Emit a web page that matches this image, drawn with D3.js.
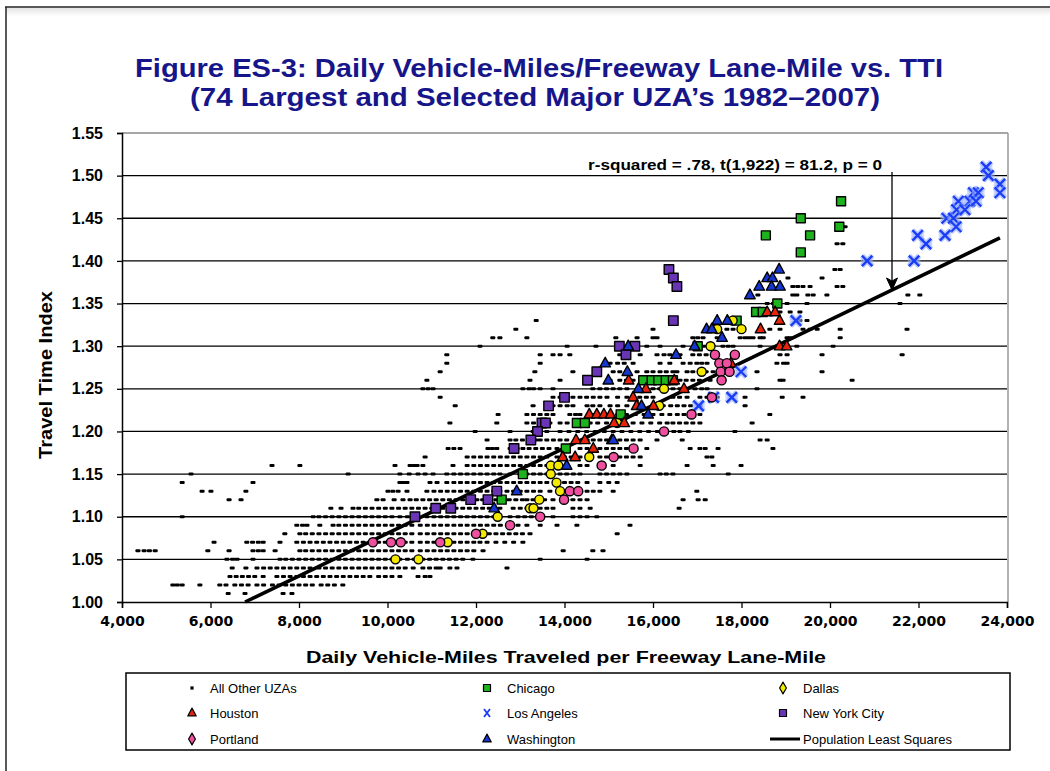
<!DOCTYPE html>
<html><head><meta charset="utf-8">
<script src="https://cdn.jsdelivr.net/npm/d3@7"></script>
<style>body{margin:0;background:#fff}svg{display:block}</style>
</head><body>
<svg id="chart" width="1050" height="771"></svg>
<script>
// ---------- DATA ----------
const titleLines = ["Figure ES-3: Daily Vehicle-Miles/Freeway Lane-Mile vs. TTI", "(74 Largest and Selected Major UZA\u2019s 1982\u20132007)"];
const xTicks = [4000, 6000, 8000, 10000, 12000, 14000, 16000, 18000, 20000, 22000, 24000];
const yTicks = [1.00, 1.05, 1.10, 1.15, 1.20, 1.25, 1.30, 1.35, 1.40, 1.45, 1.50, 1.55];
const xTitle = "Daily Vehicle-Miles Traveled per Freeway Lane-Mile";
const yTitle = "Travel Time Index";
const statText = "r-squared = .78, t(1,922) = 81.2, p = 0";

// All Other UZAs: TTI level and the VMT values (thousands) observed at that level
const otherTTI = [1.01,1.02,1.03,1.04,1.05,1.06,1.07,1.08,1.09,1.10,1.11,1.12,1.13,1.14,1.15,1.16,1.17,1.18,1.19,1.20,1.21,1.22,1.23,1.24,1.25,1.26,1.27,1.28,1.29,1.30,1.31,1.32,1.33,1.34,1.35,1.36,1.37,1.38,1.39,1.42,1.44];
const otherVMT = [
 [6.40,6.78,7.64,7.84],
 [5.15,5.25,5.36,5.76,6.21,6.35,6.55,6.70,6.85,7.05,7.20,7.40,7.55,7.70,7.85,8.00,8.15,8.30,8.50,8.65,8.80,8.99],
 [6.44,6.58,6.72,6.86,7.00,7.19,7.50,7.65,7.80,7.95,8.10,8.25,8.40,8.55,8.70,8.85,9.00,9.15,9.30,9.45,9.60,9.80,9.95,10.10,10.28,10.69,10.85,10.96],
 [6.49,6.80,7.05,7.20,7.35,7.50,7.65,7.80,7.95,8.10,8.25,8.45,8.60,8.75,8.90,9.05,9.20,9.35,9.50,9.65,9.80,9.95,10.10,10.25,10.40,10.58,10.80,10.95,11.10,11.19,11.41,11.57,12.70],
 [6.37,6.50,6.60,6.96,7.57,7.70,7.85,8.00,8.15,8.30,8.45,8.60,8.75,8.90,9.05,9.20,9.35,9.50,9.65,9.80,9.95,10.10,10.28,10.45,10.60,10.80,10.95,11.10,11.25,11.40,11.55,11.70,11.93,13.45,14.51],
 [4.36,4.50,4.62,4.75,5.94,6.42,6.96,7.08,7.19,7.46,8.02,8.15,8.30,8.45,8.60,8.75,8.90,9.05,9.20,9.35,9.50,9.65,9.80,9.95,10.10,10.25,10.40,10.55,10.74,10.90,11.05,11.20,11.35,11.50,11.65,11.80,11.95,12.16,13.97,14.64,14.87],
 [6.08,6.82,6.95,7.08,7.19,7.57,7.95,8.10,8.25,8.40,8.55,8.70,8.85,9.00,9.15,9.30,9.45,9.60,9.80,9.95,10.40,10.55,10.74,10.90,11.05,11.35,11.50,11.65,11.80,11.95,12.09,12.25,12.45,12.65,12.85,13.06],
 [7.68,8.02,8.15,8.30,8.45,8.60,8.75,8.90,9.05,9.20,9.35,9.50,9.65,9.80,9.95,10.10,10.25,10.40,10.55,10.74,10.90,11.05,11.20,11.35,11.50,11.65,11.80,12.30,12.45,12.60,12.75,12.90,13.05,13.22,15.19],
 [7.95,8.08,8.18,8.47,8.77,8.90,9.05,9.20,9.35,9.50,9.65,9.80,9.95,10.10,10.25,10.40,10.55,10.74,10.90,11.05,11.20,11.35,11.50,11.65,11.80,11.95,12.10,12.25,12.40,12.55,12.95,13.15,13.45,13.83,14.28,15.48],
 [5.36,8.32,8.45,8.60,8.75,8.90,9.05,9.20,9.35,9.50,9.65,9.80,9.95,10.10,10.28,10.45,10.58,10.89,11.05,11.20,11.35,11.50,11.65,11.80,11.95,12.10,12.25,12.40,12.54,12.77,12.95,13.10,13.25,13.45,13.74,14.19,14.35,14.51,14.73],
 [8.72,8.95,9.22,9.35,9.50,9.65,9.80,9.95,10.10,10.25,10.40,10.55,10.70,10.85,11.00,11.25,11.55,11.70,11.85,12.00,12.15,12.30,12.54,12.84,13.00,13.15,13.45,13.60,13.74,14.19,14.35,14.58,16.59],
 [6.42,6.69,9.76,9.90,10.15,10.35,10.51,10.65,10.80,10.95,11.10,11.25,11.40,11.55,11.70,12.02,12.15,12.30,12.45,12.60,12.75,12.90,13.05,13.15,13.29,13.55,13.74,14.19,14.35,14.51,16.68,17.02,17.18],
 [5.81,6.01,6.80,10.01,10.12,10.24,10.44,10.89,11.05,11.20,11.35,11.50,11.65,11.80,11.95,12.10,12.25,12.40,12.54,12.70,12.85,13.00,13.15,13.30,13.45,13.67,14.51,14.65,14.80,15.10,16.99],
 [5.36,6.96,10.28,10.35,10.44,10.96,11.12,11.34,11.50,11.65,11.80,11.95,12.10,12.25,12.40,12.55,12.70,12.85,13.00,13.15,13.30,13.45,13.60,13.83,14.00,14.15,14.30,14.51,14.80,15.00,15.19],
 [5.56,9.11,10.28,10.49,10.69,10.85,11.03,11.34,11.50,11.65,11.80,11.95,12.10,12.25,12.40,12.54,12.77,12.99,13.15,13.30,13.45,13.60,13.90,14.05,14.20,14.35,14.80,14.95,15.10,15.25,15.41,16.16,16.30,16.45,17.70],
 [7.39,8.02,10.17,10.51,10.60,10.67,10.80,11.48,11.80,11.95,12.10,12.25,12.40,12.55,12.70,12.85,13.00,13.15,13.30,13.45,13.60,13.75,13.90,14.06,14.35,14.51,15.10,15.71,16.77,17.36,17.99],
 [10.85,11.80,11.95,12.10,12.25,12.40,12.55,12.70,12.85,13.00,13.15,13.30,13.45,13.60,13.83,14.00,14.15,14.35,14.80,14.95,15.10,15.25,15.40,15.55,15.71,17.22,17.33],
 [11.37,11.50,11.64,12.27,12.37,12.47,12.77,12.93,13.06,13.20,13.35,13.50,13.65,13.83,14.35,14.51,14.80,14.95,15.10,15.25,15.40,15.55,15.86,16.84,17.06,17.18,17.47,18.71],
 [12.25,12.77,12.90,13.05,13.20,13.35,13.45,13.60,13.75,13.90,14.05,14.28,14.51,14.65,14.80,14.95,15.10,15.25,15.40,15.55,15.71,16.09,16.66,18.42,18.58],
 [11.98,12.77,13.29,13.45,13.60,13.90,14.10,14.30,14.50,14.70,14.90,15.10,15.30,15.50,15.70,15.90,16.10,16.30,16.47,16.61,16.80,17.85],
 [11.41,12.47,13.15,13.30,13.45,13.67,13.90,14.06,14.58,14.75,14.95,15.15,15.35,15.55,15.75,15.95,16.15,16.32,16.45,16.60,16.75,16.90,17.06,18.24],
 [12.50,13.15,13.30,13.45,13.60,13.74,14.12,14.25,14.35,14.64,15.20,15.40,15.60,15.80,16.00,16.20,16.38,16.55,16.70,16.85,17.06,18.64],
 [11.53,13.29,13.74,13.90,14.06,14.19,14.51,14.64,14.80,15.03,15.20,15.41,15.64,16.23,16.40,16.55,16.70,16.85,17.06,18.08],
 [11.19,13.74,13.90,14.05,14.19,14.35,14.50,14.65,14.80,14.96,15.20,15.41,15.55,15.70,15.85,16.00,16.45,16.60,16.77,17.06,17.22,17.45,18.08,18.92,19.39],
 [10.80,10.92,11.03,13.06,13.20,13.30,13.45,13.74,14.64,14.80,14.95,15.10,15.25,15.41,15.86,16.00,16.15,16.30,16.45,16.61,16.77,16.95,17.10,17.22,18.35],
 [10.89,13.22,13.90,15.03,15.25,15.40,15.55,15.78,16.00,16.20,16.40,16.61,16.75,16.90,17.05,17.29,18.87,18.94,20.50],
 [11.19,13.33,14.19,15.10,15.25,15.64,15.86,16.00,16.16,16.30,16.45,16.54,16.77,16.90,17.05,17.20,17.36,18.35,19.82],
 [11.34,13.45,15.03,15.20,15.35,15.55,16.16,16.38,16.68,16.84,16.99,17.10,17.22,18.80,18.95,19.03],
 [11.34,13.45,13.74,13.90,14.12,15.25,15.71,16.09,16.25,16.38,16.50,16.61,16.90,17.05,17.20,17.36,18.87,19.03,19.82,21.63],
 [12.09,14.06,14.71,15.86,16.16,16.68,16.99,17.14,17.29,17.58,17.70,17.81,18.42,19.25,20.07],
 [12.38,12.54,13.15,15.16,15.64,16.00,16.09,16.90,17.01,17.13,17.45,17.97,18.08,18.17,18.26,18.42,18.49,19.03,19.10,20.23],
 [12.90,16.00,17.67,17.81,18.64,18.87,19.39,19.55,19.71,20.23,21.74],
 [13.36,19.32,19.48],
 [18.87,19.10,19.32],
 [18.58,18.72,18.85,19.03,19.48,21.58],
 [18.37,19.16,19.25,19.50,19.62,19.93,21.76,22.03],
 [19.16,19.27,19.39,19.55,20.16,20.29],
 [19.05,19.82],
 [20.11,20.23],
 [20.16,20.29],
 [20.34]
];

// Selected UZAs: [VMT per lane-mile, TTI]
const chicago = [[20250,1.47],[19340,1.45],[20210,1.44],[18550,1.43],[19550,1.43],[19340,1.41],[18810,1.35],[18330,1.34],[18480,1.34],[17890,1.33],[17010,1.30],[15780,1.26],[15970,1.26],[16120,1.26],[16290,1.26],[16450,1.26],[15270,1.22],[14280,1.21],[14460,1.21],[14030,1.18],[13060,1.15],[12580,1.12]];
const dallas = [[17800,1.33],[18000,1.32],[17450,1.32],[17300,1.30],[17100,1.27],[16250,1.25],[16140,1.23],[15190,1.21],[14560,1.17],[13690,1.16],[13860,1.16],[13690,1.15],[13820,1.14],[13900,1.13],[13430,1.12],[13220,1.11],[13300,1.11],[12490,1.10],[12150,1.08],[11360,1.07],[10700,1.05],[10180,1.05]];
const houston = [[18580,1.34],[18760,1.34],[18860,1.33],[18430,1.32],[18860,1.30],[19020,1.30],[17760,1.28],[16480,1.26],[16700,1.25],[15450,1.26],[15840,1.25],[15550,1.24],[15630,1.23],[16010,1.23],[14560,1.22],[14730,1.22],[14890,1.22],[15040,1.22],[15120,1.21],[15350,1.21],[14260,1.19],[14460,1.19],[15070,1.19],[14650,1.18],[13960,1.17],[14240,1.17]];
const losAngeles = [[23530,1.51],[23580,1.50],[23840,1.49],[23840,1.48],[23240,1.48],[23350,1.48],[23160,1.47],[23300,1.47],[22900,1.47],[22860,1.46],[23050,1.46],[22640,1.45],[22790,1.45],[22850,1.44],[22600,1.43],[21980,1.43],[22170,1.42],[20840,1.40],[21900,1.40],[19230,1.33],[17990,1.27],[17030,1.23],[17370,1.24],[17780,1.24]];
const newYork = [[16360,1.39],[16460,1.38],[16540,1.37],[16460,1.33],[15240,1.30],[15590,1.30],[15390,1.29],[14730,1.27],[14520,1.26],[14000,1.24],[13640,1.23],[13490,1.21],[13570,1.21],[13390,1.20],[13240,1.19],[12860,1.18],[12470,1.13],[11880,1.12],[12270,1.12],[11090,1.11],[11430,1.11],[10620,1.10]];
const portland = [[17400,1.29],[17850,1.29],[17500,1.28],[17670,1.28],[17530,1.27],[17730,1.27],[17550,1.26],[17330,1.24],[16870,1.22],[16250,1.20],[15560,1.18],[15110,1.17],[14840,1.16],[14120,1.13],[14310,1.13],[13990,1.12],[13450,1.10],[12770,1.09],[12000,1.08],[11190,1.07],[9670,1.07],[10080,1.07],[10300,1.07]];
const washington = [[18850,1.39],[18580,1.38],[18700,1.38],[18400,1.37],[18680,1.37],[18870,1.37],[18190,1.36],[17450,1.33],[17680,1.33],[17210,1.32],[17330,1.32],[17560,1.31],[16940,1.30],[16520,1.29],[15440,1.30],[14920,1.28],[15420,1.27],[14990,1.26],[15670,1.25],[15740,1.23],[15890,1.22],[15100,1.19],[14050,1.16],[12920,1.13],[12410,1.11]];
// Population least squares fit end points
const lsqVMT = [6780, 23840];
const lsqTTI = [1.000, 1.427];

const legendLabels = ["All Other UZAs","Houston","Portland","Chicago","Los Angeles","Washington","Dallas","New York City","Population Least Squares"];
const legendKeys = ["other","houston","portland","chicago","la","washington","dallas","nyc","lsq"];

// ---------- DRAW ----------
const svg = d3.select("#chart");
const W = 1050, H = 771;
const P = {l:122, r:1007, t:133, b:602};
const x = d3.scaleLinear().domain([4000,24000]).range([P.l,P.r]);
const y = d3.scaleLinear().domain([1.00,1.55]).range([P.b,P.t]);
const NAVY = "#16168a";

// outer frame
svg.append("line").attr("x1",5).attr("x2",W).attr("y1",7).attr("y2",7).attr("stroke","#222").attr("stroke-width",1.5);
svg.append("line").attr("x1",6).attr("x2",6).attr("y1",7).attr("y2",H).attr("stroke","#222").attr("stroke-width",1.5);
const grad = svg.append("defs").append("linearGradient").attr("id","sh").attr("x1",0).attr("x2",0).attr("y1",0).attr("y2",1);
grad.append("stop").attr("offset",0).attr("stop-color","#e4e4e4");
grad.append("stop").attr("offset",1).attr("stop-color","#fff");
svg.append("rect").attr("x",7).attr("y",8).attr("width",W-7).attr("height",8).attr("fill","url(#sh)");

// title
const titleFont = "'Liberation Sans',Arial,sans-serif";
svg.append("text").attr("x",539).attr("y",77).attr("text-anchor","middle")
  .attr("font-family",titleFont).attr("font-weight","bold").attr("font-size",25)
  .attr("fill",NAVY).attr("textLength",808).attr("lengthAdjust","spacingAndGlyphs").text(titleLines[0]);
svg.append("text").attr("x",535).attr("y",106).attr("text-anchor","middle")
  .attr("font-family",titleFont).attr("font-weight","bold").attr("font-size",25)
  .attr("fill",NAVY).attr("textLength",690).attr("lengthAdjust","spacingAndGlyphs").text(titleLines[1]);

// gridlines
svg.append("g").selectAll("line").data(yTicks.filter(v=>v>1.0001 && v<1.549)).join("line")
  .attr("x1",P.l).attr("x2",P.r).attr("y1",d=>y(d)).attr("y2",d=>y(d))
  .attr("stroke","#000").attr("stroke-width",1.3);
// plot border top/right (gray)
svg.append("line").attr("x1",P.l).attr("x2",P.r+1).attr("y1",y(1.55)).attr("y2",y(1.55)).attr("stroke","#888").attr("stroke-width",1.3);
svg.append("line").attr("x1",P.r+1).attr("x2",P.r+1).attr("y1",y(1.55)).attr("y2",P.b).attr("stroke","#999").attr("stroke-width",1.5);

// axes
const yAxis = d3.axisLeft(y).tickValues(yTicks).tickFormat(d3.format(".2f")).tickSize(5).tickPadding(14);
const gy = svg.append("g").attr("transform",`translate(${P.l},0)`).call(yAxis);
gy.selectAll("text").attr("font-family","'Liberation Sans',Arial,sans-serif").attr("font-weight","bold").attr("font-size",16).attr("fill","#000");
const xAxis = d3.axisBottom(x).tickValues(xTicks).tickFormat(d3.format(",")).tickSize(6).tickPadding(8);
const gx = svg.append("g").attr("transform",`translate(0,${P.b})`).call(xAxis);
gx.selectAll("text").attr("font-family","'DejaVu Sans',Verdana,sans-serif").attr("font-weight","bold").attr("font-size",14).attr("fill","#000");
[gx,gy].forEach(g=>{g.selectAll("path.domain").attr("stroke","#000").attr("stroke-width",1.5);g.selectAll(".tick line").attr("stroke","#000").attr("stroke-width",1.3);});

// axis titles
svg.append("text").attr("x",566).attr("y",663).attr("text-anchor","middle")
  .attr("font-family","'Liberation Sans',Arial,sans-serif").attr("font-weight","bold").attr("font-size",17)
  .attr("textLength",520).attr("lengthAdjust","spacingAndGlyphs").text(xTitle);
svg.append("text").attr("transform","translate(52,375) rotate(-90)").attr("text-anchor","middle")
  .attr("font-family","'Liberation Sans',Arial,sans-serif").attr("font-weight","bold").attr("font-size",18)
  .attr("textLength",168).attr("lengthAdjust","spacingAndGlyphs").text(yTitle);

// All other UZAs
const others = [];
otherTTI.forEach((t,i)=>otherVMT[i].forEach(v=>others.push([v*1000,t])));
svg.append("g").selectAll("rect").data(others).join("rect")
  .attr("x",d=>x(d[0])-2.5).attr("y",d=>y(d[1])-1.5).attr("width",5).attr("height",3).attr("rx",1)
  .attr("fill","#000");

// least squares line
svg.append("line").attr("x1",x(lsqVMT[0])).attr("y1",y(lsqTTI[0])).attr("x2",x(lsqVMT[1])).attr("y2",y(lsqTTI[1]))
  .attr("stroke","#000").attr("stroke-width",3.6).attr("stroke-linecap","butt");

// marker helpers
function square(g,s){return g.append("rect").attr("x",-s/2).attr("y",-s/2).attr("width",s).attr("height",s);}
function tri(g,s){const h=s*0.92;return g.append("path").attr("d",`M0,${-h*0.62}L${s/2},${h*0.38}L${-s/2},${h*0.38}Z`);}
function roundDia(g,r){return g.append("circle").attr("r",r);}
function laX(g,s){
  const d=`M${-s/2},${-s/2}L${s/2},${s/2}M${s/2},${-s/2}L${-s/2},${s/2}`;
  g.append("path").attr("d",d).attr("stroke","#7f9cff").attr("stroke-opacity",0.55).attr("stroke-width",5.5);
  g.append("path").attr("d",`M${-s*0.6},0L${s*0.6},0`).attr("stroke","#9fb4ff").attr("stroke-opacity",0.5).attr("stroke-width",3.5);
  g.append("path").attr("d",d).attr("stroke","#1a3cf5").attr("stroke-width",2.3);
}
const styles = {
  chicago:{fill:"#1db31d",draw:(g,k)=>square(g,9*k)},
  dallas:{fill:"#f4ea00",draw:(g,k)=>roundDia(g,4.5*k)},
  houston:{fill:"#e8230c",draw:(g,k)=>tri(g,10.5*k)},
  la:{fill:"none",draw:(g,k)=>laX(g,10.5*k)},
  nyc:{fill:"#6a35b5",draw:(g,k)=>square(g,9.5*k)},
  portland:{fill:"#ef4f9f",draw:(g,k)=>roundDia(g,4.6*k)},
  washington:{fill:"#1636d0",draw:(g,k)=>tri(g,10.5*k)}
};
function drawSeries(data,key){
  const g = svg.append("g");
  data.forEach(d=>{
    const m = g.append("g").attr("transform",`translate(${x(d[0])},${y(d[1])})`);
    const el = styles[key].draw(m,1);
    if(el) el.attr("fill",styles[key].fill).attr("stroke","#000").attr("stroke-width",1.4).attr("stroke-linejoin","round");
  });
}
drawSeries(chicago,"chicago");
drawSeries(dallas,"dallas");
drawSeries(houston,"houston");
drawSeries(losAngeles,"la");
drawSeries(newYork,"nyc");
drawSeries(portland,"portland");
drawSeries(washington,"washington");

// annotation
svg.append("text").attr("x",882).attr("y",170).attr("text-anchor","end")
  .attr("font-family","'Liberation Sans',Arial,sans-serif").attr("font-weight","bold").attr("font-size",15)
  .attr("textLength",294).attr("lengthAdjust","spacingAndGlyphs").text(statText);
svg.append("line").attr("x1",892).attr("x2",892).attr("y1",172).attr("y2",283).attr("stroke","#000").attr("stroke-width",1.3);
svg.append("path").attr("d","M892,290L886.5,278L892,281L897.5,278Z").attr("fill","#000").attr("stroke","#000").attr("stroke-width",1);

// legend
svg.append("rect").attr("x",126).attr("y",673).attr("width",884).attr("height",77).attr("fill","#fff").attr("stroke","#000").attr("stroke-width",1.5);
const colSym = [192,487,783], colTxt = [210,507,803], rowY = [688,713,739];
legendKeys.forEach((k,i)=>{
  const c = Math.floor(i/3), r = i%3;
  const g = svg.append("g").attr("transform",`translate(${colSym[c]},${rowY[r]})`);
  if(k==="other"){
    g.append("rect").attr("x",-1.6).attr("y",-1.6).attr("width",3.2).attr("height",3.2).attr("fill","#000");
  } else if(k==="lsq"){
    g.append("line").attr("x1",-13).attr("x2",17).attr("y1",0).attr("y2",0).attr("stroke","#000").attr("stroke-width",3);
  } else if(k==="la"){
    g.append("path").attr("d","M-3,-4L3,4M3,-4L-3,4").attr("stroke","#1a3cf5").attr("stroke-width",1.8);
  } else {
    let el;
    if(k==="chicago"||k==="nyc") el = square(g,7);
    else if(k==="houston"||k==="washington") el = tri(g,8.5);
    else el = g.append("path").attr("d",d3.symbol(d3.symbolDiamond,40)());
    el.attr("fill",styles[k].fill).attr("stroke","#000").attr("stroke-width",1.2).attr("stroke-linejoin","round");
  }
  svg.append("text").attr("x",colTxt[c]).attr("y",rowY[r]).attr("dominant-baseline","central")
    .attr("font-family","'Liberation Sans',Arial,sans-serif").attr("font-size",13).attr("fill","#000").text(legendLabels[i]);
});
</script>
</body></html>
